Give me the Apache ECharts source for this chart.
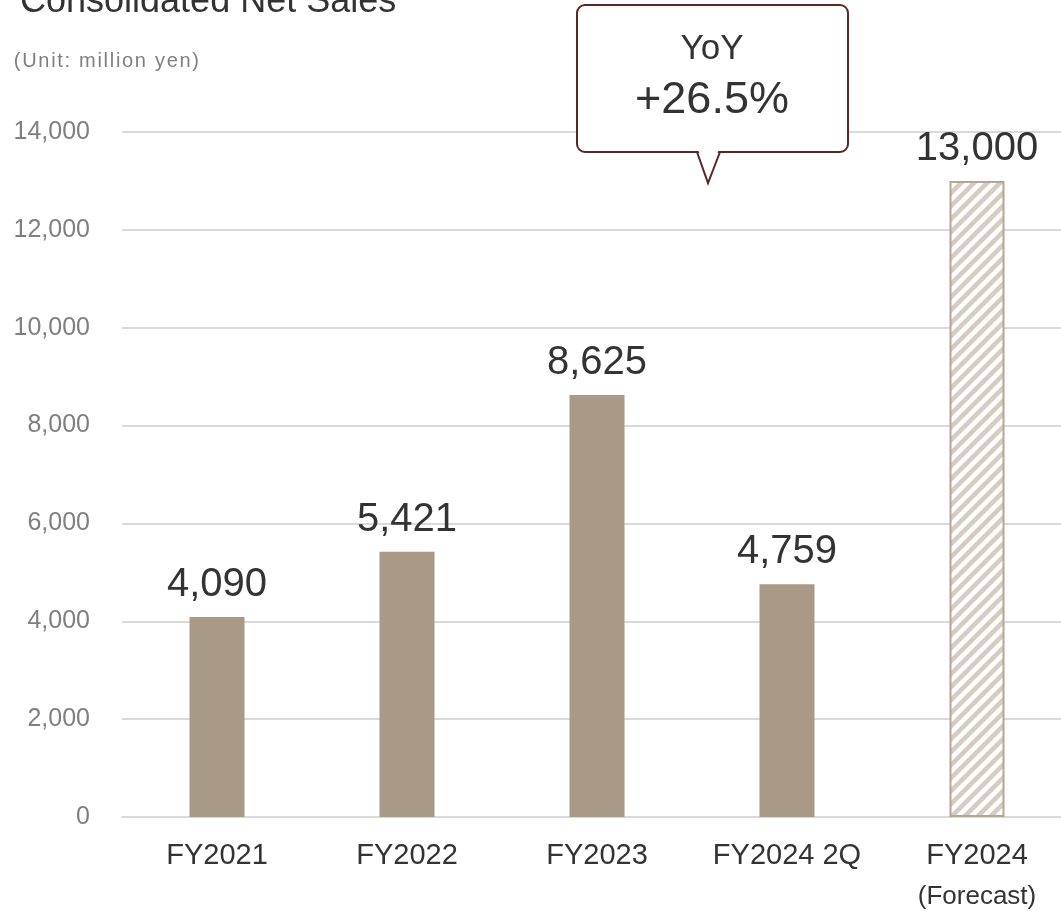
<!DOCTYPE html>
<html>
<head>
<meta charset="utf-8">
<title>Consolidated Net Sales</title>
<script src="https://cdn.jsdelivr.net/npm/echarts@6/dist/echarts.min.js"></script>
<style>
  html, body { margin: 0; padding: 0; background: #ffffff; }
  #chart { width: 1061px; height: 911px; }
</style>
</head>
<body>
<div id="chart"></div>
<script>
// Net sales by fiscal year (million yen)
const categories = ['FY2021', 'FY2022', 'FY2023', 'FY2024 2Q', 'FY2024'];
const subLabels = ['', '', '', '', '(Forecast)'];
const netSales = [4090, 5421, 8625, 4759, 13000];
const isForecast = [false, false, false, false, true];
const yTicks = { min: 0, max: 14000, interval: 2000 };
const yoyText = ['YoY', '+26.5%'];
const unitText = '(Unit: million yen)';

const FONT = '"Liberation Sans", Arial, Helvetica, sans-serif';
const BAR = '#a89a87';
const BUBBLE = '#5a2626';

// Diagonal hatch tile for the forecast bar
function hatchTile() {
  const c = document.createElement('canvas');
  const s = 13;
  c.width = s; c.height = s;
  const g = c.getContext('2d');
  g.fillStyle = '#ffffff';
  g.fillRect(0, 0, s, s);
  g.strokeStyle = '#d6cdc2';
  g.lineWidth = 4.6;
  g.beginPath();
  g.moveTo(-3, s + 3); g.lineTo(s + 3, -3);
  g.moveTo(-3 - s, s + 3); g.lineTo(3, -3);
  g.moveTo(s - 3, s + 3); g.lineTo(2 * s + 3, -3);
  g.stroke();
  return c;
}
const hatch = hatchTile();

const barData = netSales.map((v, i) => isForecast[i]
  ? { value: v, itemStyle: { color: { image: hatch, repeat: 'repeat' }, borderColor: '#b3a695', borderWidth: 2 } }
  : { value: v, itemStyle: { color: BAR } });

// letter-spaced unit caption, one rich token per character
const unitRich = unitText.split('').map(ch => '{c|' + ch + '}').join('');

const chart = echarts.init(document.getElementById('chart'), null, { renderer: 'canvas' });

chart.setOption({
  animation: false,
  backgroundColor: '#ffffff',
  textStyle: { fontFamily: FONT },
  grid: { left: 122, right: -11, top: 132, bottom: 94, containLabel: false, outerBoundsMode: 'none' },
  xAxis: {
    type: 'category',
    data: categories,
    axisLine: { show: true, lineStyle: { color: '#d9d9d9', width: 2 } },
    axisTick: { show: false },
    axisLabel: {
      color: '#333333',
      fontFamily: FONT,
      fontSize: 29,
      lineHeight: 34,
      margin: 22,
      interval: 0,
      formatter: (v, i) => subLabels[i] ? v + '\n{s|' + subLabels[i] + '}' : v,
      rich: { s: { fontSize: 26, lineHeight: 48, color: '#333333', fontFamily: FONT } }
    }
  },
  yAxis: {
    type: 'value',
    min: yTicks.min,
    max: yTicks.max,
    interval: yTicks.interval,
    axisLine: { show: false },
    axisTick: { show: false },
    splitLine: { lineStyle: { color: '#d9d9d9', width: 2 } },
    axisLabel: {
      color: '#7f7f7f',
      fontFamily: FONT,
      fontSize: 25,
      margin: 32,
      formatter: v => v.toLocaleString('en-US')
    }
  },
  series: [{
    type: 'bar',
    data: barData,
    barWidth: 55,
    label: {
      show: true,
      position: 'top',
      distance: 12,
      color: '#333333',
      fontFamily: FONT,
      fontSize: 40,
      formatter: p => p.value.toLocaleString('en-US')
    }
  }],
  graphic: [
    {
      type: 'text',
      x: 20,
      y: 2,
      style: { text: 'Consolidated Net Sales', fill: '#333333', font: '36px ' + FONT, verticalAlign: 'middle' }
    },
    {
      type: 'text',
      x: 13,
      y: 61,
      style: {
        text: unitRich,
        fill: '#7f7f7f',
        font: '20px ' + FONT,
        verticalAlign: 'middle',
        rich: { c: { fill: '#7f7f7f', font: '20px ' + FONT, padding: [0, 0.85, 0, 0.85] } }
      }
    },
    {
      // speech-bubble callout for the year-over-year growth
      type: 'rect',
      shape: { x: 577, y: 5, width: 271, height: 147, r: 8 },
      style: { fill: '#ffffff', stroke: BUBBLE, lineWidth: 2 },
      z: 10
    },
    {
      type: 'polygon',
      shape: { points: [[698, 149], [708, 180], [719, 149]] },
      style: { fill: '#ffffff' },
      z: 11
    },
    {
      type: 'polyline',
      shape: { points: [[697, 152], [708, 183], [720, 152]] },
      style: { stroke: BUBBLE, lineWidth: 2, fill: null },
      z: 12
    },
    {
      type: 'text',
      x: 712,
      y: 49,
      style: { text: yoyText[0], fill: '#333333', font: '35px ' + FONT, align: 'center', verticalAlign: 'middle' },
      z: 13
    },
    {
      type: 'text',
      x: 712,
      y: 101,
      style: { text: yoyText[1], fill: '#333333', font: '45px ' + FONT, align: 'center', verticalAlign: 'middle' },
      z: 13
    }
  ]
});
</script>
</body>
</html>
